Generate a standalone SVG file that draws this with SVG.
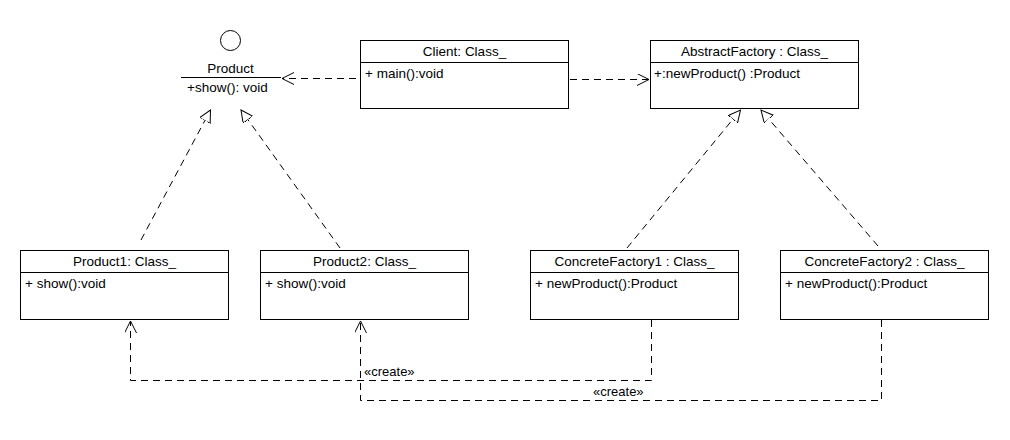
<svg xmlns="http://www.w3.org/2000/svg" width="1010" height="440" viewBox="0 0 1010 440">
  <style>
    .box { fill: #ffffff; stroke: #000000; stroke-width: 1; }
    .sep { stroke: #000000; stroke-width: 1; }
    .txt { font-family: "Liberation Sans", Arial, sans-serif; font-size: 13.5px; fill: #000000; }
    .mid { text-anchor: middle; }
    .stereo { font-size: 13px; }
    .dash { fill: none; stroke: #000000; stroke-width: 1; stroke-dasharray: 7 5; }
  </style>
  <defs>
    <!-- open arrowhead for dependencies -->
    <marker id="open" markerWidth="14" markerHeight="14" refX="12" refY="6" orient="auto" markerUnits="userSpaceOnUse">
      <path d="M0,0 L12,6 L0,12" fill="none" stroke="#000000" stroke-width="1"/>
    </marker>
    <!-- hollow triangle for realization -->
    <marker id="tri" markerWidth="14" markerHeight="14" refX="12" refY="6" orient="auto" markerUnits="userSpaceOnUse">
      <path d="M0,0 L12,6 L0,12 Z" fill="#ffffff" stroke="#000000" stroke-width="1"/>
    </marker>
  </defs>

  <rect width="1010" height="440" fill="#ffffff"/>

  <!-- Product interface (lollipop) -->
  <g id="product">
    <circle cx="230.5" cy="40.5" r="10" fill="#ffffff" stroke="#000000"/>
    <text class="txt mid" x="230.5" y="73">Product</text>
    <line class="sep" x1="181" y1="77.5" x2="281" y2="77.5"/>
    <text class="txt" x="187" y="92">+show(): void</text>
  </g>

  <g id="client">
    <rect class="box" x="360.5" y="40.5" width="208" height="68"/>
    <line class="sep" x1="360.5" y1="62.5" x2="568.5" y2="62.5"/>
    <text class="txt mid" x="464.5" y="56">Client: Class_</text>
    <text class="txt" x="365" y="78">+ main():void</text>
  </g>

  <g id="abstractFactory">
    <rect class="box" x="650.5" y="40.5" width="208" height="68"/>
    <line class="sep" x1="650.5" y1="62.5" x2="858.5" y2="62.5"/>
    <text class="txt mid" x="754.5" y="56">AbstractFactory : Class_</text>
    <text class="txt" x="654" y="78">+:newProduct() :Product</text>
  </g>

  <g id="product1">
    <rect class="box" x="20.5" y="250.5" width="208" height="69"/>
    <line class="sep" x1="20.5" y1="272.5" x2="228.5" y2="272.5"/>
    <text class="txt mid" x="124.5" y="266">Product1: Class_</text>
    <text class="txt" x="25" y="288">+ show():void</text>
  </g>

  <g id="product2">
    <rect class="box" x="260.5" y="250.5" width="208" height="69"/>
    <line class="sep" x1="260.5" y1="272.5" x2="468.5" y2="272.5"/>
    <text class="txt mid" x="364.5" y="266">Product2: Class_</text>
    <text class="txt" x="265" y="288">+ show():void</text>
  </g>

  <g id="concreteFactory1">
    <rect class="box" x="530.5" y="250.5" width="208" height="69"/>
    <line class="sep" x1="530.5" y1="272.5" x2="738.5" y2="272.5"/>
    <text class="txt mid" x="634.5" y="266">ConcreteFactory1 : Class_</text>
    <text class="txt" x="535" y="288">+ newProduct():Product</text>
  </g>

  <g id="concreteFactory2">
    <rect class="box" x="780.5" y="250.5" width="208" height="69"/>
    <line class="sep" x1="780.5" y1="272.5" x2="988.5" y2="272.5"/>
    <text class="txt mid" x="884.5" y="266">ConcreteFactory2 : Class_</text>
    <text class="txt" x="785" y="288">+ newProduct():Product</text>
  </g>

  <g id="connectors">
    <!-- dependencies from Client -->
    <line class="dash" x1="356" y1="78.5" x2="282" y2="78.5" marker-end="url(#open)"/>
    <line class="dash" x1="570" y1="79.5" x2="649" y2="79.5" marker-end="url(#open)"/>

    <!-- realizations -->
    <line class="dash" x1="141" y1="240" x2="210.5" y2="110" marker-end="url(#tri)"/>
    <line class="dash" x1="340" y1="248" x2="241" y2="110" marker-end="url(#tri)"/>
    <line class="dash" x1="627" y1="248" x2="740.5" y2="110" marker-end="url(#tri)"/>
    <line class="dash" x1="878" y1="246" x2="761" y2="110" marker-end="url(#tri)"/>

    <!-- create relations -->
    <polyline class="dash" points="651.5,320 651.5,380.5 130.5,380.5 130.5,321" marker-end="url(#open)"/>
    <polyline class="dash" points="881.5,320 881.5,400.5 360.5,400.5 360.5,321" marker-end="url(#open)"/>
    <text class="txt stereo" x="364" y="376">«create»</text>
    <text class="txt stereo" x="593" y="396">«create»</text>
  </g>
</svg>
